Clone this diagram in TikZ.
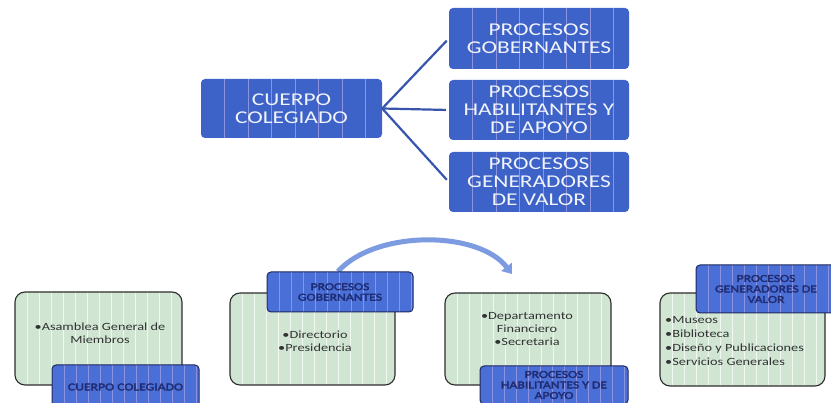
\documentclass[tikz,border=0pt]{standalone}
\usepackage{fontspec}
\newfontfamily\diagfont[FakeStretch=1.3]{Carlito}
\newfontfamily\tagfont[FakeStretch=1.3, FakeBold=3]{Carlito}
\usetikzlibrary{arrows.meta,backgrounds}

\definecolor{topblue}{RGB}{61,98,200}
\definecolor{tagblue}{RGB}{74,111,214}
\definecolor{stripeblue}{RGB}{140,148,226}
\definecolor{mintgreen}{RGB}{208,230,211}
\definecolor{edgegray}{RGB}{45,45,45}
\definecolor{tagnavy}{RGB}{30,40,95}
\definecolor{tagtext}{RGB}{32,44,115}
\definecolor{branchblue}{RGB}{55,85,172}
\definecolor{flowblue}{RGB}{125,155,224}
\definecolor{itemgray}{RGB}{50,50,50}

\tikzset{
  stripes/.style 2 args={path picture={
      \foreach \k in {1,...,40}
        \draw[#1, line width=0.8pt]
          ([xshift=\k*#2]path picture bounding box.south west) --
          ([xshift=\k*#2]path picture bounding box.north west);}},
  topbox/.style={fill=topblue, rounded corners=4pt, stripes={stripeblue}{23.5pt},
    text=white!93!topblue, align=center, inner sep=0pt,
    font=\diagfont\fontsize{18}{18}\selectfont},
  greenbox/.style={fill=mintgreen, draw=edgegray, line width=1.1pt,
    rounded corners=10pt, stripes={white!70!mintgreen}{12pt}, inner sep=0pt},
  tagbox/.style={fill=tagblue, draw=tagnavy, line width=1pt, rounded corners=4pt,
    stripes={stripeblue}{12pt}, text=tagtext, align=center, inner sep=0pt,
    font=\tagfont\fontsize{10.5}{10.5}\selectfont},
  itemtext/.style={text=itemgray, inner sep=0pt,
    font=\diagfont\fontsize{11}{13}\selectfont},
  branch/.style={draw=branchblue, line width=2.2pt, shorten >=3pt},
  flow/.style={draw=flowblue, line width=5pt,
    -{Triangle[width=13pt,length=9pt]}}
}

\begin{document}
\begin{tikzpicture}[x=1pt,y=-1pt]
\useasboundingbox (0,0) rectangle (831,403);

% top: cuerpo colegiado and the three process groups
\node[topbox, minimum width=181pt, minimum height=59pt] (cuerpo) at (291.5,108.5) {CUERPO\\COLEGIADO};
\node[topbox, minimum width=180pt, minimum height=61pt] (gob) at (539,38.5) {PROCESOS\\GOBERNANTES};
\node[topbox, minimum width=180pt, minimum height=60pt] (hab) at (539,110) {PROCESOS\\HABILITANTES Y\\DE APOYO};
\node[topbox, minimum width=180pt, minimum height=60pt] (gen) at (539,182) {PROCESOS\\GENERADORES\\DE VALOR};

\draw[branch] (cuerpo.east) -- (gob.west);
\draw[branch] (cuerpo.east) -- (hab.west);
\draw[branch] (cuerpo.east) -- (gen.west);

% bottom: content boxes
\node[greenbox, minimum width=167pt, minimum height=93pt] (asamblea) at (98.5,338.5) {};
\node[greenbox, minimum width=165pt, minimum height=92pt] (directorio) at (312.5,339) {};
\node[greenbox, minimum width=166pt, minimum height=92pt] (finanzas) at (528,339) {};
\node[greenbox, minimum width=165pt, minimum height=93pt] (museos) at (742.5,339.5) {};

\node[itemtext, align=center] (asambleaT) at (100,333) {\textbullet Asamblea General de\\Miembros};
\node[itemtext, align=center] (directorioT) at (315,341) {\textbullet Directorio\\\textbullet Presidencia};
\node[itemtext, align=center] (finanzasT) at (527,329) {\textbullet Departamento\\Financiero\\\textbullet Secretaria};
\node[itemtext, align=left, anchor=west, font=\diagfont\fontsize{11}{13.8}\selectfont] (museosT) at (665,341)
  {\textbullet Museos\\\textbullet Biblioteca\\\textbullet Diseño y Publicaciones\\\textbullet Servicios Generales};

% labels
\node[tagbox, minimum width=147pt, minimum height=44pt] (tag1) at (125.5,387) {CUERPO COLEGIADO};
\node[tagbox, minimum width=146pt, minimum height=40pt] (tag2) at (340,292) {PROCESOS\\GOBERNANTES};
\node[tagbox, minimum width=148pt, minimum height=38pt] (tag3) at (554,385) {PROCESOS\\HABILITANTES Y DE\\APOYO};
\node[tagbox, minimum width=140pt, minimum height=48pt] (tag4) at (766,289) {PROCESOS\\GENERADORES DE\\VALOR};

\coordinate (arcend) at (512,274);
\begin{scope}[on background layer]
  \fill[white] (0,0) rectangle (831,403);
  \draw[flow] ([xshift=-2pt]tag2.north) .. controls (375,230) and (478,230) .. (arcend);
\end{scope}
\end{tikzpicture}
\end{document}
